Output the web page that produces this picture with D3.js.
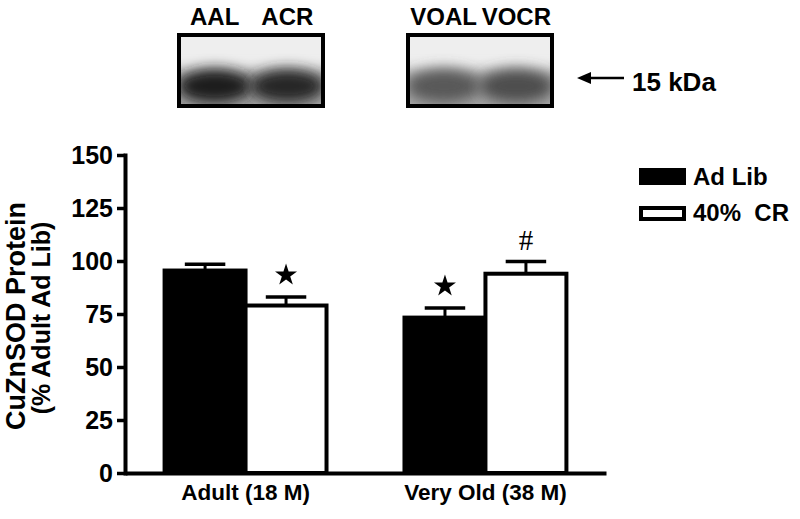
<!DOCTYPE html>
<html>
<head>
<meta charset="utf-8">
<script src="https://cdn.jsdelivr.net/npm/d3@7"></script>
<style>
  body { margin: 0; background: #fff; }
  svg { display: block; font-family: "Liberation Sans", Arial, sans-serif; font-weight: bold; }
</style>
</head>
<body>
<svg id="chart" width="800" height="519"></svg>
<script>
// data
var groups = ["Adult (18 M)", "Very Old (38 M)"];
var seriesNames = ["Ad Lib", "40% CR"];
var legendLabels = ["Ad Lib", "40%  CR"];
var adLibMean = [95.5, 73.3];
var adLibSem = [3.0, 4.5];
var crMean = [79.0, 94.0];
var crSem = [4.0, 5.8];
// significance marks above each bar
var adLibMark = ["", "star"];
var crMark = ["star", "#"];
var yTicks = [0, 25, 50, 75, 100, 125, 150];

// western blot lanes
var blotLanesAdult = ["AAL", "ACR"];
var blotLanesOld = ["VOAL", "VOCR"];
var bandDensityAdult = [0.9, 0.88];
var bandDensityOld = [0.72, 0.76];
var markerLabel = "15 kDa";

var svg = d3.select("#chart");
var margin = {top: 155, left: 125, bottom: 46, right: 194};
var W = +svg.attr("width"), H = +svg.attr("height");

var y = d3.scaleLinear().domain([0, 150]).range([H - margin.bottom, margin.top]);
var x0 = d3.scaleBand().domain(groups)
           .range([margin.left, W - margin.right])
           .paddingInner(0.325).paddingOuter(0.165);
var x1 = d3.scaleBand().domain(seriesNames).range([0, x0.bandwidth()]);

var rows = groups.map(function(g, i) {
    return [
        {group: g, s: seriesNames[0], mean: adLibMean[i], sem: adLibSem[i], mark: adLibMark[i]},
        {group: g, s: seriesNames[1], mean: crMean[i], sem: crSem[i], mark: crMark[i]}
    ];
});

// bars
var gBars = svg.append("g");
var groupG = gBars.selectAll("g.grp")
    .data(rows)
    .enter().append("g")
    .attr("class", "grp")
    .attr("transform", function(d, i) { return "translate(" + x0(groups[i]) + ",0)"; });

var bar = groupG.selectAll("g.bar")
    .data(function(d) { return d; })
    .enter().append("g")
    .attr("class", "bar");

// error bars first so the bar outline sits on top of the stem
bar.append("line")
   .attr("x1", function(d) { return x1(d.s) + x1.bandwidth() / 2; })
   .attr("x2", function(d) { return x1(d.s) + x1.bandwidth() / 2; })
   .attr("y1", function(d) { return y(d.mean); })
   .attr("y2", function(d) { return y(d.mean + d.sem); })
   .attr("stroke", "#000").attr("stroke-width", 3);
bar.append("line")
   .attr("x1", function(d) { return x1(d.s) + x1.bandwidth() * 0.25; })
   .attr("x2", function(d) { return x1(d.s) + x1.bandwidth() * 0.75; })
   .attr("y1", function(d) { return y(d.mean + d.sem); })
   .attr("y2", function(d) { return y(d.mean + d.sem); })
   .attr("stroke", "#000").attr("stroke-width", 3.5);

bar.append("rect")
   .attr("x", function(d) { return x1(d.s); })
   .attr("width", x1.bandwidth())
   .attr("y", function(d) { return y(d.mean); })
   .attr("height", function(d) { return y(0) - y(d.mean); })
   .attr("fill", function(d) { return d.s === seriesNames[0] ? "#000" : "#fff"; })
   .attr("stroke", "#000")
   .attr("stroke-width", 4);

// significance marks
bar.filter(function(d) { return d.mark === "star"; })
   .append("path")
   .attr("d", d3.symbol(d3.symbolStar).size(150))
   .attr("fill", "#000")
   .attr("transform", function(d) {
       return "translate(" + (x1(d.s) + x1.bandwidth() / 2) + "," + (y(d.mean + d.sem) - 22) + ")";
   });
bar.filter(function(d) { return d.mark === "#"; })
   .append("text")
   .attr("x", function(d) { return x1(d.s) + x1.bandwidth() / 2; })
   .attr("y", function(d) { return y(d.mean + d.sem) - 11; })
   .attr("text-anchor", "middle")
   .style("font-family", "'Liberation Serif', 'DejaVu Serif', serif")
   .style("font-weight", "normal")
   .style("font-size", "29px")
   .text("#");

// axes
var yAxisG = svg.append("g")
    .attr("transform", "translate(" + margin.left + ",0)")
    .call(d3.axisLeft(y).tickValues(yTicks).tickSize(8).tickSizeOuter(0).tickPadding(4));
yAxisG.select(".domain").attr("stroke-width", 4).attr("stroke-linecap", "square");
yAxisG.selectAll(".tick line").attr("stroke-width", 3.5);
yAxisG.selectAll(".tick text")
      .style("font-size", "25px").style("font-family", null).attr("fill", "#000");

var xAxisG = svg.append("g")
    .attr("transform", "translate(0," + y(0) + ")")
    .call(d3.axisBottom(x0).tickSize(0).tickSizeOuter(0));
xAxisG.select(".domain").attr("stroke-width", 4);
xAxisG.selectAll(".tick text")
      .attr("y", 27).attr("dy", 0)
      .style("font-size", "22.5px").style("font-family", null).attr("fill", "#000");

// y title
var yTitle = svg.append("text")
    .attr("transform", "rotate(-90)")
    .attr("text-anchor", "middle")
    .style("font-size", "27px");
yTitle.append("tspan").attr("x", -(y(0) + y(150)) / 2 - 2).attr("y", 25).text("CuZnSOD Protein");
yTitle.append("tspan").attr("x", -(y(0) + y(150)) / 2 - 4).attr("y", 50).style("font-size", "25px").text("(% Adult Ad Lib)");

// legend
var legend = svg.append("g").attr("transform", "translate(641,0)");
var legItems = legend.selectAll("g")
    .data(legendLabels)
    .enter().append("g")
    .attr("transform", function(d, i) { return "translate(0," + (i === 0 ? 168 : 206) + ")"; });
legItems.append("rect")
    .attr("x", function(d, i) { return i === 0 ? -2 : 0; })
    .attr("y", function(d, i) { return i === 0 ? 0 : 2; })
    .attr("width", function(d, i) { return i === 0 ? 47 : 43; })
    .attr("height", function(d, i) { return i === 0 ? 17 : 11; })
    .attr("fill", function(d, i) { return i === 0 ? "#000" : "#fff"; })
    .attr("stroke", "#000")
    .attr("stroke-width", function(d, i) { return i === 0 ? 0 : 4; });
legItems.append("text")
    .attr("x", 52)
    .attr("y", function(d, i) { return i === 0 ? 17 : 15; })
    .style("font-size", "24px")
    .style("white-space", "pre")
    .text(function(d) { return d; });

// blots
var defs = svg.append("defs");
defs.append("filter").attr("id", "blur")
    .attr("x", "-50%").attr("y", "-50%").attr("width", "200%").attr("height", "200%")
    .append("feGaussianBlur").attr("stdDeviation", 7);

function drawBlot(x, lanes, density, id) {
    var bw = 144, bh = 71;
    var g = svg.append("g").attr("transform", "translate(" + x + ",35)");
    var lane = d3.scaleBand().domain(lanes).range([0, bw]).paddingInner(0.06).paddingOuter(0.02);
    defs.append("clipPath").attr("id", id)
        .append("rect").attr("width", bw).attr("height", bh);
    var inner = g.append("g").attr("clip-path", "url(#" + id + ")");
    inner.append("rect").attr("width", bw).attr("height", bh).attr("fill", "#eeeeee");
    inner.append("rect").attr("x", -10).attr("y", bh * 0.5).attr("width", bw + 20).attr("height", bh)
         .attr("fill", "#a8a8a8").attr("filter", "url(#blur)");
    inner.selectAll("ellipse")
         .data(lanes)
         .enter().append("ellipse")
         .attr("cx", function(d) { return lane(d) + lane.bandwidth() / 2; })
         .attr("cy", bh * 0.72)
         .attr("rx", lane.bandwidth() * 0.55)
         .attr("ry", 17)
         .attr("fill", function(d, i) { return d3.interpolateGreys(density[i]); })
         .attr("filter", "url(#blur)");
    g.append("rect").attr("width", bw).attr("height", bh)
     .attr("fill", "none").attr("stroke", "#000").attr("stroke-width", 4);
    g.selectAll("text.lane")
     .data(lanes)
     .enter().append("text")
     .attr("class", "lane")
     .attr("x", function(d) { return lane(d) + lane.bandwidth() / 2; })
     .attr("y", -10)
     .attr("text-anchor", "middle")
     .style("font-size", "24px")
     .text(function(d) { return d; });
}
drawBlot(179, blotLanesAdult, bandDensityAdult, "clipA");
drawBlot(408, blotLanesOld, bandDensityOld, "clipB");

// size marker arrow
svg.append("line")
   .attr("x1", 588).attr("x2", 624).attr("y1", 78).attr("y2", 78)
   .attr("stroke", "#000").attr("stroke-width", 2.5);
svg.append("path")
   .attr("d", d3.line()([[577, 78], [591, 72], [591, 84]]))
   .attr("fill", "#000");
svg.append("text")
   .attr("x", 632).attr("y", 91)
   .style("font-size", "26px")
   .text(markerLabel);
</script>
</body>
</html>
